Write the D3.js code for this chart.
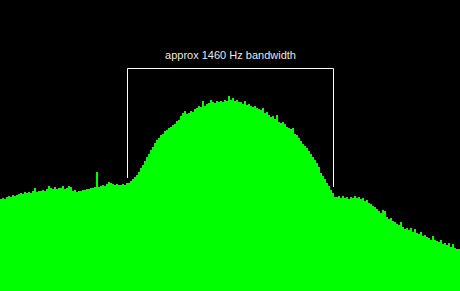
<!DOCTYPE html>
<html>
<head>
<meta charset="utf-8">
<script src="https://cdn.jsdelivr.net/npm/d3@7"></script>
<style>
  html, body { margin: 0; padding: 0; background: #000; }
  svg { display: block; }
</style>
</head>
<body>
<svg id="chart" width="460" height="291"></svg>
<script>
// Spectrum level (arbitrary linear units, 0 = floor of view) sampled evenly from 0 to 3260 Hz
const spectrumLevels = [
  92,93,92,94,95,94,96,95,96,97,
  98,97,99,98,99,98,100,103,99,100,
  100,101,100,102,105,103,102,104,102,103,
  103,105,102,103,105,104,100,101,99,100,
  100,101,101,102,102,103,103,104,119,104,
  105,106,105,107,109,108,107,106,107,106,
  106,107,106,108,108,110,112,114,116,119,
  123,126,130,134,137,141,144,148,151,153,
  156,157,160,161,163,164,166,167,170,171,
  175,178,180,177,178,180,179,182,183,185,
  184,190,185,187,188,191,189,188,190,189,
  190,189,191,190,195,191,193,190,191,189,
  189,187,190,186,187,185,184,185,183,182,
  181,183,178,179,176,174,175,172,176,169,
  168,169,167,164,163,162,163,157,156,153,
  150,147,145,143,140,137,134,131,128,124,
  118,115,112,108,105,101,98,94,94,95,
  93,95,93,94,92,94,93,95,93,94,
  92,93,90,91,88,87,85,84,82,80,
  78,81,80,74,72,73,70,69,67,66,
  69,64,62,63,61,63,59,62,58,57,
  59,55,56,54,53,51,55,51,50,49,
  51,47,48,46,48,44,47,43,42,42,
  41
];
const freqMax = 3260;          // Hz across the view
const levelMax = 291;          // top of view
const bandEdges = [900, 2360]; // Hz, bandwidth 1460 Hz
const bracketLevels = [113, 223, 104]; // left foot, top bar, right foot
const labelText = "approx 1460 Hz bandwidth";

const W = 460, H = 291;
const svg = d3.select("#chart");
svg.append("rect").attr("width", W).attr("height", H).attr("fill", "#000");

const x = d3.scaleLinear().domain([0, freqMax]).range([0, W]);
const y = d3.scaleLinear().domain([0, levelMax]).range([H, 0]);

const step = freqMax / (spectrumLevels.length - 1);
const data = spectrumLevels.map((v, i) => ({ f: i * step, v }));

const area = d3.area()
  .x(d => x(d.f))
  .y0(H)
  .y1(d => y(d.v))
  .curve(d3.curveStepAfter);

svg.append("path")
  .datum(data)
  .attr("d", area)
  .attr("fill", "#00ff00");

// bracket
const xl = Math.round(x(bandEdges[0])) + 0.5;
const xr = Math.round(x(bandEdges[1])) + 0.5;
const yt = Math.round(y(bracketLevels[1])) + 0.5;
svg.append("path")
  .attr("d", `M${xl},${y(bracketLevels[0])}V${yt}H${xr}V${y(bracketLevels[2])}`)
  .attr("fill", "none")
  .attr("stroke", "#ffffff")
  .attr("stroke-width", 1);

svg.append("text")
  .attr("x", (xl + xr) / 2)
  .attr("y", yt - 9.5)
  .attr("text-anchor", "middle")
  .attr("fill", "#e8e8e8")
  .attr("font-family", "Liberation Sans, Arial, sans-serif")
  .attr("font-size", 11)
  .text(labelText);
</script>
</body>
</html>
